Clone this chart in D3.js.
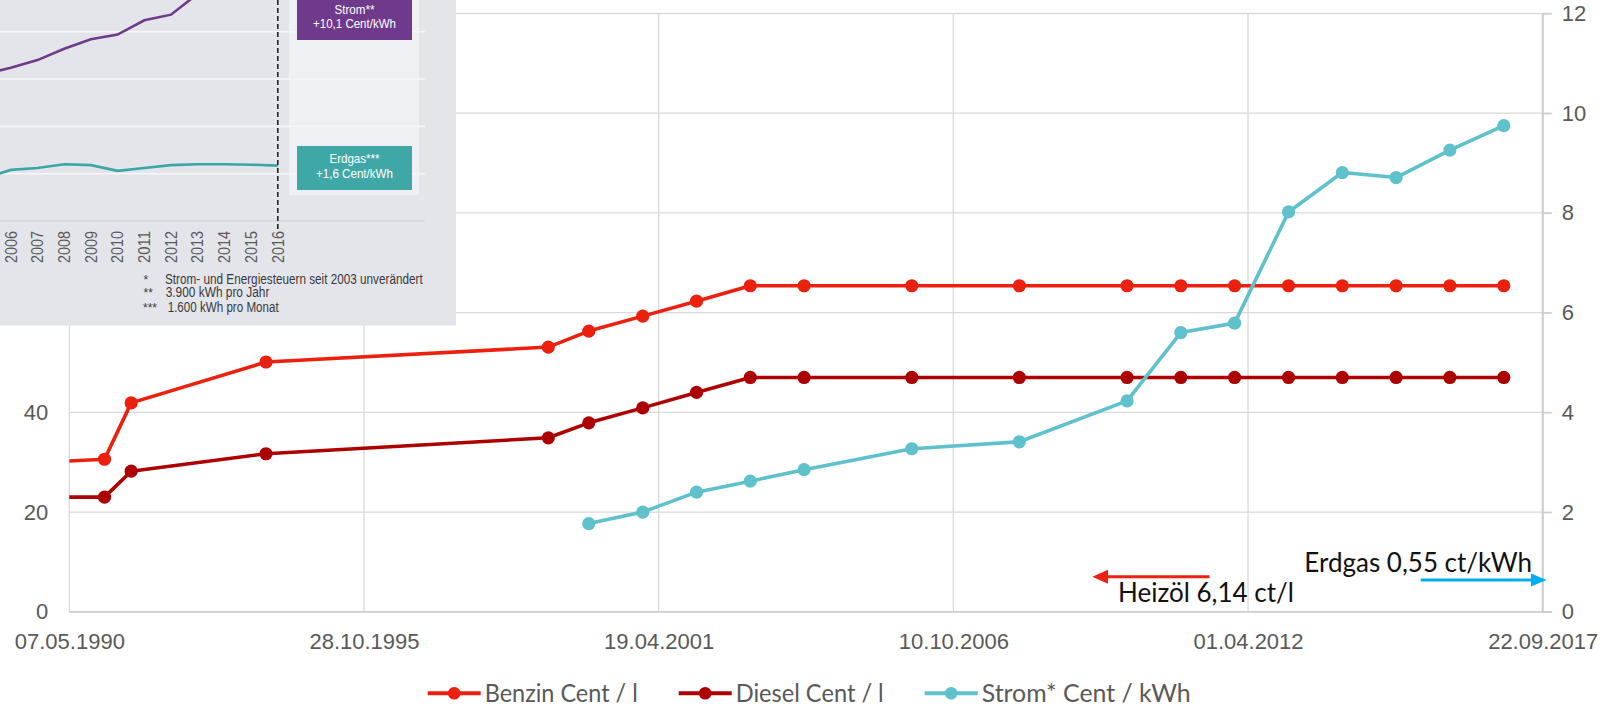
<!DOCTYPE html>
<html><head><meta charset="utf-8">
<script src="https://cdn.jsdelivr.net/npm/d3@7"></script>
<style>body{margin:0;background:#fff}svg{display:block}</style>
</head><body>
<svg id="c" width="1610" height="706"></svg>
<script>
// ---------- data ----------
const fuelDates = ["1989-01-01","1991-01-01","1991-07-01","1994-01-01","1999-04-01","2000-01-01","2001-01-01","2002-01-01","2003-01-01","2004-01-01","2006-01-01","2008-01-01","2010-01-01","2011-01-01","2012-01-01","2013-01-01","2014-01-01","2015-01-01","2016-01-01","2017-01-01"];
const benzinValues = [29.5,30.6,41.9,50.1,53.1,56.3,59.3,62.3,65.4,65.4,65.4,65.4,65.4,65.4,65.4,65.4,65.4,65.4,65.4,65.4];
const dieselValues = [23.0,23.0,28.2,31.7,34.9,37.9,40.9,44.0,47.0,47.0,47.0,47.0,47.0,47.0,47.0,47.0,47.0,47.0,47.0,47.0];
const stromDates = ["2000-01-01","2001-01-01","2002-01-01","2003-01-01","2004-01-01","2006-01-01","2008-01-01","2010-01-01","2011-01-01","2012-01-01","2013-01-01","2014-01-01","2015-01-01","2016-01-01","2017-01-01"];
const stromValues = [1.77,2.0,2.40,2.62,2.85,3.27,3.41,4.23,5.60,5.79,8.02,8.81,8.71,9.26,9.75];
const seriesNames = ["Benzin Cent / l","Diesel Cent / l","Strom* Cent / kWh"];
const seriesColors = ["#ec200f","#ad0000","#5ec1cb"];
const xTickLabels = ["07.05.1990","28.10.1995","19.04.2001","10.10.2006","01.04.2012","22.09.2017"];
const leftTicks = [0,20,40,60,80,100,120];
const rightTicks = [0,2,4,6,8,10,12];
const annotations = ["Heizöl 6,14 ct/l","Erdgas 0,55 ct/kWh"];

// inset (screenshot of another chart)
const insetYears = [2005,2006,2007,2008,2009,2010,2011,2012,2013,2014,2015,2016];
const insetStrom = [15.5,16.2,17.0,18.2,19.2,19.7,21.2,21.8,24.0];
const insetErdgas = [4.5,5.4,5.6,6.0,5.9,5.3,5.6,5.9,6.0,6.0,5.95,5.85];
const insetYearLabels = ["2006","2007","2008","2009","2010","2011","2012","2013","2014","2015","2016"];
const insetGrid = [0,5,10,15,20];
const insetBoxes = [["Strom**","+10,1 Cent/kWh"],["Erdgas***","+1,6 Cent/kWh"]];
const footMarks = ["*","**","***"];
const footTexts = ["Strom- und Energiesteuern  seit 2003 unverändert","3.900 kWh pro Jahr","1.600 kWh pro Monat"];

// ---------- setup ----------
const svg = d3.select("#c");
const parseISO = d3.utcParse("%Y-%m-%d");
const parseDE = d3.utcParse("%d.%m.%Y");
const L = 69.3, R = 1542.7, T = 13.5, B = 611.8;
const x = d3.scaleUtc().domain([parseDE(xTickLabels[0]), parseDE(xTickLabels[xTickLabels.length-1])]).range([L, R]);
const yL = d3.scaleLinear().domain([0,120]).range([B, T]);
const yR = d3.scaleLinear().domain([0,12]).range([B, T]);
const xTicks = xTickLabels.map(parseDE);
const GRID = "#d9d9d9";
const AX_FONT = "'Liberation Sans', Arial, sans-serif";
const TXT = "#595959";

// gridlines
svg.append("g").selectAll("line").data(leftTicks).join("line")
  .attr("x1", L).attr("x2", R + 9).attr("y1", d => yL(d)).attr("y2", d => yL(d))
  .attr("stroke", GRID).attr("stroke-width", 1.3);
svg.append("g").selectAll("line").data(xTicks).join("line")
  .attr("x1", d => x(d)).attr("x2", d => x(d)).attr("y1", T).attr("y2", B)
  .attr("stroke", GRID).attr("stroke-width", 1.3);
svg.append("line").attr("x1", R).attr("x2", R).attr("y1", T).attr("y2", B).attr("stroke", "#cccccc").attr("stroke-width", 2);
svg.append("line").attr("x1", L).attr("x2", R + 9).attr("y1", B).attr("y2", B).attr("stroke", "#d0d0d0").attr("stroke-width", 1.8);

// axes
const gL = svg.append("g").attr("transform", `translate(${L},0)`)
  .call(d3.axisLeft(yL).tickValues(leftTicks).tickSize(0).tickPadding(21));
const gR = svg.append("g").attr("transform", `translate(${R},0)`)
  .call(d3.axisRight(yR).tickValues(rightTicks).tickSize(9).tickPadding(10));
const gB = svg.append("g").attr("transform", `translate(0,${B})`)
  .call(d3.axisBottom(x).tickValues(xTicks).tickFormat((d,i) => xTickLabels[i]).tickSize(0).tickPadding(22));
[gL,gR,gB].forEach(g => {
  g.select(".domain").remove();
  g.selectAll(".tick line").attr("stroke", "#cccccc").attr("stroke-width", 1.3);
  g.selectAll("text").attr("fill", TXT).style("font-family", AX_FONT).style("font-size", "22px");
});

// clip
svg.append("clipPath").attr("id","plotclip").append("rect")
  .attr("x", L).attr("y", 0).attr("width", R - L + 20).attr("height", B + 10);
const plot = svg.append("g").attr("clip-path", "url(#plotclip)");

const fuelPts = (vals) => fuelDates.map((d,i) => ({date: parseISO(d), v: vals[i]}));
const series = [
  {pts: fuelPts(benzinValues), y: yL, color: seriesColors[0]},
  {pts: fuelPts(dieselValues), y: yL, color: seriesColors[1]},
  {pts: stromDates.map((d,i) => ({date: parseISO(d), v: stromValues[i]})), y: yR, color: seriesColors[2]}
];
series.forEach(s => {
  const line = d3.line().x(d => x(d.date)).y(d => s.y(d.v));
  plot.append("path").datum(s.pts).attr("d", line).attr("fill","none")
    .attr("stroke", s.color).attr("stroke-width", 3.6).attr("stroke-linejoin","round");
  plot.append("g").selectAll("circle").data(s.pts).join("circle")
    .attr("cx", d => x(d.date)).attr("cy", d => s.y(d.v)).attr("r", 6.6).attr("fill", s.color);
});

// annotations (arrows + text)
const ANN_FONT = "Lato, 'Noto Sans', sans-serif";
const ann = svg.append("g");
ann.append("line").attr("x1", 1209.5).attr("x2", 1104).attr("y1", 576.8).attr("y2", 576.8).attr("stroke", "#ee2211").attr("stroke-width", 3);
ann.append("path").attr("d", "M1092.3,576.8 L1108,569.8 L1108,583.8 Z").attr("fill", "#ee2211");
ann.append("text").attr("x", 1118).attr("y", 602.3).text(annotations[0])
  .style("font-family", ANN_FONT).style("font-size", "26px").attr("fill", "#111");
ann.append("line").attr("x1", 1420.7).attr("x2", 1534).attr("y1", 580).attr("y2", 580).attr("stroke", "#00aeef").attr("stroke-width", 3);
ann.append("path").attr("d", "M1546.7,580 L1531,573.5 L1531,586.5 Z").attr("fill", "#00aeef");
ann.append("text").attr("x", 1304.3).attr("y", 571.7).text(annotations[1])
  .style("font-family", ANN_FONT).style("font-size", "26px").attr("fill", "#111");

// legend
const legendTextWidths = [153, 148, 209];
const leg = svg.append("g").attr("transform", "translate(0,693.3)");
const items = seriesNames.map((n,i) => {
  const g = leg.append("g");
  g.append("line").attr("x1", 0).attr("x2", 53).attr("y1", 0).attr("y2", 0).attr("stroke", seriesColors[i]).attr("stroke-width", 4);
  g.append("circle").attr("cx", 26.5).attr("cy", 0).attr("r", 6.3).attr("fill", seriesColors[i]);
  const t = g.append("text").attr("x", 57).attr("y", 8.4).text(n)
    .style("font-family", ANN_FONT).style("font-size", "25px").attr("fill", TXT)
    .attr("textLength", legendTextWidths[i]).attr("lengthAdjust", "spacingAndGlyphs");
  return {g, w: 57 + legendTextWidths[i]};
});
const gap = 41;
let cx = 427.7;
items.forEach(it => { it.g.attr("transform", `translate(${cx},0)`); cx += it.w + gap; });

// ---------- inset ----------
const IN_W = 456, IN_H = 325.7;
const ins = svg.append("g");
ins.append("clipPath").attr("id","insclip").append("rect").attr("x",0).attr("y",0).attr("width",IN_W).attr("height",IN_H);
const ig = ins.append("g").attr("clip-path","url(#insclip)");
ig.append("rect").attr("x",0).attr("y",0).attr("width",IN_W).attr("height",IN_H).attr("fill","#e4e5eb");
ig.append("rect").attr("x",289).attr("y",0).attr("width",130).attr("height",195).attr("fill","#eff0f3");
const xi = d3.scaleLinear().domain([2006,2016]).range([10.8, 277.8]);
const yi = d3.scaleLinear().domain([0,20]).range([221, 31.7]);
ig.append("g").selectAll("line").data(insetGrid).join("line")
  .attr("x1",0).attr("x2",425).attr("y1",d=>yi(d)).attr("y2",d=>yi(d))
  .attr("stroke", d => d === 0 ? "#d6d7de" : "#f6f6f9").attr("stroke-width",1.6);
const iline = d3.line().x((d,i)=>xi(insetYears[i])).y(d=>yi(d));
ig.append("path").datum(insetStrom).attr("d", iline).attr("fill","none").attr("stroke","#6f3a8c").attr("stroke-width",2.6);
ig.append("path").datum(insetErdgas).attr("d", iline).attr("fill","none").attr("stroke","#3aa6a5").attr("stroke-width",2.6);
ig.append("line").attr("x1",xi(2016)).attr("x2",xi(2016)).attr("y1",0).attr("y2",231)
  .attr("stroke","#222").attr("stroke-width",1.6).attr("stroke-dasharray","5,3");
// boxes
const boxY = [0,146], boxH = [40,44], boxCol = ["#6f3a8c","#3fa8a6"];
const boxBase = [[13.5,27.5],[162.5,177.5]], boxLen = [[40,83],[50,77]];
insetBoxes.forEach((b,i) => {
  ig.append("rect").attr("x",297).attr("y",boxY[i]).attr("width",115).attr("height",boxH[i]).attr("fill",boxCol[i]);
  b.forEach((t,j) => ig.append("text").attr("x",354.5).attr("y",boxBase[i][j]).attr("text-anchor","middle")
    .attr("textLength", boxLen[i][j]).attr("lengthAdjust","spacingAndGlyphs")
    .style("font-family",AX_FONT).style("font-size","13px").attr("fill","#ffffff").text(t));
});
// year labels
ig.append("g").selectAll("text").data(insetYearLabels).join("text")
  .attr("transform", d => `translate(${xi(+d)},231) rotate(-90)`)
  .attr("text-anchor","end").attr("dy","0.36em")
  .attr("textLength", 32).attr("lengthAdjust","spacingAndGlyphs")
  .style("font-family",AX_FONT).style("font-size","16px").attr("fill","#5a5a5a").text(d=>d);
// footnotes
const footBase = [283.5, 297.2, 311.5], footX = [165, 165.7, 167.7], footLen = [257.7, 103.7, 111], markX=[143.5,143.5,143];
footTexts.forEach((t,i) => {
  ig.append("text").attr("x",markX[i]).attr("y",footBase[i]).style("font-family",AX_FONT).style("font-size","12px").attr("fill","#3a3a3a").text(footMarks[i]);
  ig.append("text").attr("x",footX[i]).attr("y",footBase[i]).attr("textLength",footLen[i]).attr("lengthAdjust","spacingAndGlyphs")
    .style("font-family",AX_FONT).style("font-size","14px").attr("fill","#3a3a3a").text(t);
});
</script>
</body></html>
